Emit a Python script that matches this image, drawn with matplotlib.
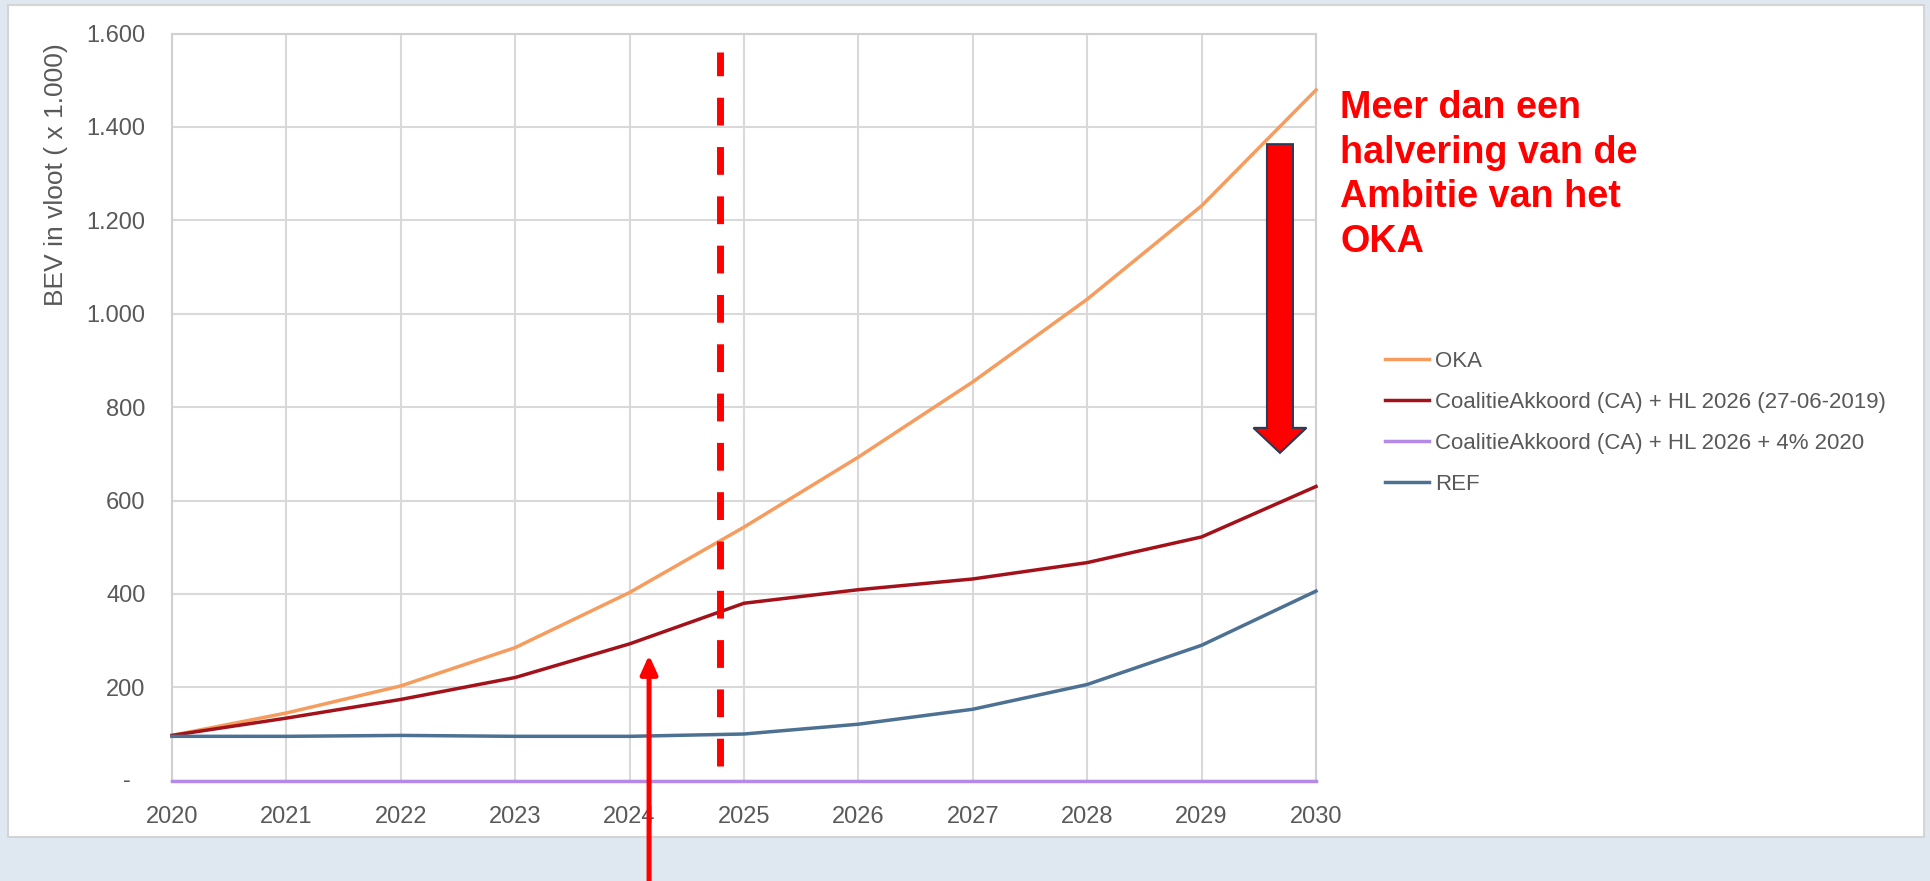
import matplotlib
matplotlib.use("Agg")
import matplotlib.pyplot as plt
from matplotlib.patches import Rectangle, FancyArrow
from matplotlib.lines import Line2D

# data (BEV in fleet, x 1.000)
years = [2020, 2021, 2022, 2023, 2024, 2025, 2026, 2027, 2028, 2029, 2030]
oka = [97, 145, 203, 285, 403, 543, 693, 854, 1031, 1231, 1479]
ca_hl2026 = [97, 134, 174, 221, 293, 380, 409, 432, 467, 522, 630]
ca_hl2026_4pct = [0, 0, 0, 0, 0, 0, 0, 0, 0, 0, 0]
ref = [95, 95, 97, 95, 95, 100, 121, 153, 206, 290, 406]

series_labels = ["OKA", "CoalitieAkkoord (CA) + HL 2026 (27-06-2019)",
                 "CoalitieAkkoord (CA) + HL 2026 + 4% 2020", "REF"]
series_colors = ["#f59c5e", "#a3121a", "#b48ae4", "#4c7192"]
yticks = [0, 200, 400, 600, 800, 1000, 1200, 1400, 1600]
ytick_labels = ["", "200", "400", "600", "800", "1.000", "1.200", "1.400", "1.600"]
annotation = "Meer dan een\nhalvering van de\nAmbitie van het\nOKA"

W, H = 1930, 881
plt.rcParams["font.family"] = ["Liberation Sans", "DejaVu Sans"]
fig = plt.figure(figsize=(W / 100, H / 100), dpi=100)
fig.patch.set_facecolor("#dfe8f1")

# white panel behind the chart
fig.patches.append(Rectangle((8 / W, 1 - 837 / H), 1916 / W, 832 / H,
                             transform=fig.transFigure, facecolor="white",
                             edgecolor="#d4d4d4", lw=1.5, zorder=-5))

ax = fig.add_axes([172 / W, 1 - 780.7 / H, 1144 / W, 747.2 / H])
ax.set_facecolor("white")
ax.set_xlim(2020, 2030)
ax.set_ylim(0, 1600)
ax.set_xticks(years)
ax.set_xticklabels([str(y) for y in years])
ax.set_yticks(yticks)
ax.set_yticklabels(ytick_labels)
ax.tick_params(length=0, labelsize=17, labelcolor="#595959")
ax.tick_params(axis="y", pad=19)
ax.tick_params(axis="x", pad=18)
ax.grid(True, color="#d9d9d9", lw=1.5)
ax.set_axisbelow(True)
for s in ax.spines.values():
    s.set_color("#d0d0d0")
    s.set_linewidth(1.5)

# zero label as accounting dash
ax.text(-41 / 1144, 0, "-", transform=ax.get_yaxis_transform(), ha="right",
        va="center", fontsize=17, color="#595959")

fig.text(56 / W, 1 - 175 / H, "BEV in vloot ( x 1.000)", rotation=90,
         ha="center", va="center", fontsize=19, color="#595959")

all_series = [oka, ca_hl2026, ca_hl2026_4pct, ref]
for vals, col, lab in zip(all_series, series_colors, series_labels):
    ax.plot(years, vals, color=col, lw=2.5, label=lab, clip_on=False, zorder=3)

handles = [Line2D([], [], color=c, lw=2.5) for c in series_colors]
ax.legend(handles, series_labels, loc="upper left",
          bbox_to_anchor=(1385 / W, 1 - 351 / H), bbox_transform=fig.transFigure,
          frameon=False, fontsize=16, labelcolor="#595959", handlelength=2.0,
          handletextpad=0.26, labelspacing=0.9, borderpad=0, borderaxespad=0)

# red dashed marker line
ax.plot([2024.79, 2024.79], [31, 1560], color="#ff0000", lw=5.0,
        dashes=(4, 3.1), solid_capstyle="butt", dash_capstyle="butt", zorder=4)

# thin red arrow from below
ax.annotate("", xy=(2024.17, 269), xycoords="data",
            xytext=(2024.17, 0), textcoords=("data", "figure fraction"),
            arrowprops=dict(arrowstyle="-|>,head_length=1.1,head_width=0.5",
                            mutation_scale=10, lw=3.6, color="#ff0000",
                            shrinkA=0, shrinkB=0),
            annotation_clip=False, zorder=5)

# big downward arrow
ax.add_patch(FancyArrow(2029.685, 1363, 0, 702 - 1363, width=0.227,
                        head_width=0.463, head_length=53.5,
                        length_includes_head=True, facecolor="#ff0000",
                        edgecolor="#2e3a55", lw=1.5, zorder=6, clip_on=False))

fig.text(1340 / W, 1 - 90 / H, annotation, ha="left", va="top",
         fontsize=27.2, fontweight="bold", color="#ff0000", linespacing=1.31)

fig.savefig("out.png", dpi=100, facecolor=fig.get_facecolor())
